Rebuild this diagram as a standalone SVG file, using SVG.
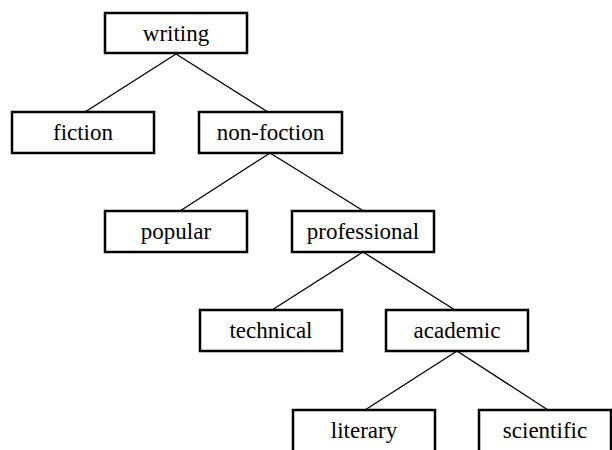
<svg xmlns="http://www.w3.org/2000/svg" width="612" height="450" viewBox="0 0 612 450">
<style>
.box{fill:#fff;stroke:#000;stroke-width:2.5}
.lbl{font-family:"Liberation Serif","Times New Roman",serif;font-size:23px;fill:#000;text-anchor:middle}
.edge{stroke:#000;stroke-width:1.3;fill:none}
</style>
<rect width="612" height="450" fill="#fff"/>
<g id="connectors">
<line class="edge" x1="176" y1="54" x2="85" y2="112"/>
<line class="edge" x1="176" y1="54" x2="268" y2="112"/>
<line class="edge" x1="270" y1="153" x2="180" y2="211"/>
<line class="edge" x1="270" y1="153" x2="362" y2="210"/>
<line class="edge" x1="363" y1="252" x2="272" y2="310"/>
<line class="edge" x1="363" y1="252" x2="455" y2="310"/>
<line class="edge" x1="457" y1="351" x2="365" y2="410"/>
<line class="edge" x1="457" y1="351" x2="548" y2="410"/>
</g>
<g id="writing"><rect class="box" x="105" y="13" width="142" height="40"/><text class="lbl" x="176" y="41">writing</text></g>
<g id="fiction"><rect class="box" x="12" y="112" width="142" height="41"/><text class="lbl" x="83" y="140">fiction</text></g>
<g id="non-foction"><rect class="box" x="199" y="112" width="143" height="41"/><text class="lbl" x="270.5" y="140">non-foction</text></g>
<g id="popular"><rect class="box" x="105" y="211" width="142" height="41"/><text class="lbl" x="176" y="239">popular</text></g>
<g id="professional"><rect class="box" x="292" y="211" width="142" height="41"/><text class="lbl" x="363" y="239">professional</text></g>
<g id="technical"><rect class="box" x="200" y="310" width="142" height="41"/><text class="lbl" x="271" y="338">technical</text></g>
<g id="academic"><rect class="box" x="386" y="310" width="142" height="41"/><text class="lbl" x="457" y="338">academic</text></g>
<g id="literary"><rect class="box" x="293" y="410" width="142" height="60"/><text class="lbl" x="364" y="438">literary</text></g>
<g id="scientific"><rect class="box" x="479" y="410" width="132" height="60"/><text class="lbl" x="545" y="438">scientific</text></g>
</svg>
